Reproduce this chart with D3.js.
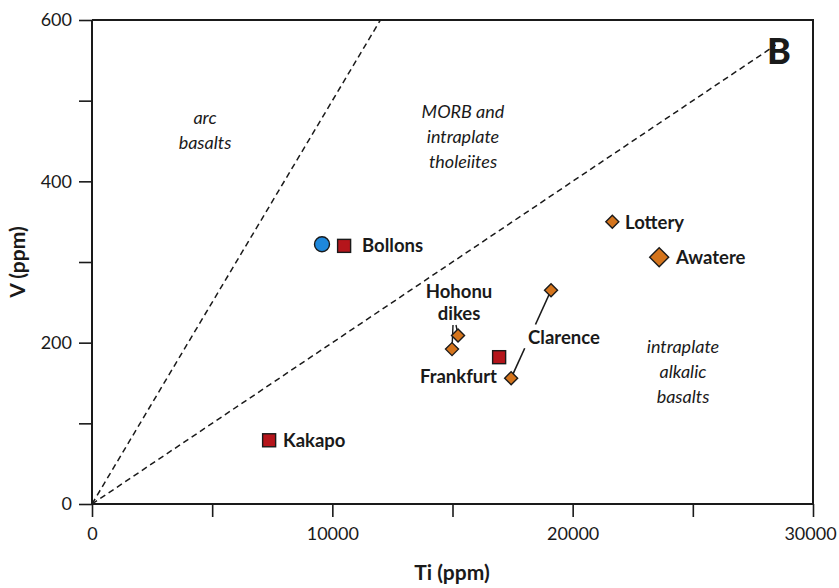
<!DOCTYPE html>
<html>
<head>
<meta charset="utf-8">
<script src="https://cdn.jsdelivr.net/npm/d3@7"></script>
<style>
  html, body { margin: 0; padding: 0; background: #fff; }
  svg { display: block; }
  text { font-family: Lato, "Open Sans", sans-serif; fill: #1a1a1a; }
</style>
</head>
<body>
<svg id="chart" width="839" height="588"></svg>
<script>
// Ti–V discrimination diagram (Shervais), panel B

// axis ticks
const xTicks = [0, 5000, 10000, 15000, 20000, 25000, 30000];
const xTickLabels = ["0", "", "10000", "", "20000", "", "30000"];
const yTicks = [0, 100, 200, 300, 400, 500, 600];
const yTickLabels = ["0", "", "200", "", "400", "", "600"];

// samples
const sampleName  = ["Bollons", "Bollons", "Kakapo", "Frankfurt", "Hohonu dikes", "Hohonu dikes", "Clarence", "Clarence", "Lottery", "Awatere"];
const sampleTi    = [9570, 10490, 7370, 16940, 15230, 14980, 19100, 17440, 21650, 23600];
const sampleV     = [322, 320, 79, 182, 209, 192, 265, 156, 350, 306];
const sampleShape = ["circle", "square", "square", "square", "diamond", "diamond", "diamond", "diamond", "diamond", "diamondL"];

// discriminant lines Ti/V = 20 and Ti/V = 50
const ratioLines = [
  { ratio: 20, tiEnd: 12000 },
  { ratio: 50, tiEnd: 28450 }
];

const svg = d3.select("#chart");
const x = d3.scaleLinear().domain([0, 30000]).range([92, 813]);
const y = d3.scaleLinear().domain([0, 600]).range([504, 20]);

// frame
svg.append("path")
  .attr("d", `M${x(0)},${y(600)}H${x(30000)}V${y(0)}`)
  .attr("fill", "none").attr("stroke", "#1a1a1a").attr("stroke-width", 2);

// axes
const xAxis = d3.axisBottom(x).tickValues(xTicks)
  .tickFormat((d, i) => xTickLabels[i]).tickSize(13).tickPadding(8);
const gx = svg.append("g").attr("transform", `translate(0,${y(0)})`).call(xAxis);
const yAxis = d3.axisLeft(y).tickValues(yTicks)
  .tickFormat((d, i) => yTickLabels[i]).tickSize(13).tickPadding(7);
const gy = svg.append("g").attr("transform", `translate(${x(0)},0)`).call(yAxis);
[gx, gy].forEach(g => {
  g.select(".domain").attr("stroke", "#1a1a1a").attr("stroke-width", 2);
  g.selectAll(".tick line").attr("stroke", "#1a1a1a").attr("stroke-width", 1.6);
  g.selectAll(".tick text").attr("font-size", 18).attr("fill", "#1a1a1a")
    .style("font-family", "Lato, sans-serif");
});
gx.select(".domain").attr("d", `M${x(0)},0H${x(30000)}`);
gy.select(".domain").attr("d", `M0,${y(0)}V${y(600)}`);
gx.selectAll(".tick text").attr("dy", "0.85em");
// keep the last x label inside the page
gx.selectAll(".tick text").filter(d => d === 30000).attr("dx", -3);

// axis titles
svg.append("text").attr("x", 452).attr("y", 580).attr("text-anchor", "middle")
  .attr("font-size", 21).attr("font-weight", "bold").text("Ti (ppm)");
svg.append("text").attr("transform", "translate(25,262) rotate(-90)")
  .attr("text-anchor", "middle").attr("font-size", 21).attr("font-weight", "bold").text("V (ppm)");

// discriminant lines
svg.selectAll(".ratio").data(ratioLines).enter().append("line")
  .attr("x1", x(0)).attr("y1", y(0))
  .attr("x2", d => x(d.tiEnd)).attr("y2", d => y(d.tiEnd / d.ratio))
  .attr("stroke", "#1a1a1a").attr("stroke-width", 1.5).attr("stroke-dasharray", "6,4");

// field labels
const fieldLabels = [
  { lines: ["arc", "basalts"], cx: 205, cy: 118 },
  { lines: ["MORB and", "intraplate", "tholeiites"], cx: 463, cy: 112 },
  { lines: ["intraplate", "alkalic", "basalts"], cx: 683, cy: 347 }
];
fieldLabels.forEach(f => {
  f.lines.forEach((t, i) => {
    svg.append("text").attr("x", f.cx).attr("y", f.cy + i * 25)
      .attr("dy", "0.35em").attr("text-anchor", "middle")
      .attr("font-size", 18).attr("font-style", "italic").attr("fill", "#2a2a2a").text(t);
  });
});

// panel letter
svg.append("text").attr("x", 767).attr("y", 64).attr("font-size", 36)
  .attr("font-weight", "900").text("B");

// leader lines
const idx = n => sampleName.map((s, i) => s === n ? i : -1).filter(i => i >= 0);
const cl = idx("Clarence");
const c0 = [x(sampleTi[cl[0]]), y(sampleV[cl[0]])];
const c1 = [x(sampleTi[cl[1]]), y(sampleV[cl[1]])];
const lerp = t => [c0[0] + (c1[0] - c0[0]) * t, c0[1] + (c1[1] - c0[1]) * t];
[[0, 0.39], [0.66, 1]].forEach(([a, b]) => {
  const p = lerp(a), q = lerp(b);
  svg.append("line").attr("x1", p[0]).attr("y1", p[1]).attr("x2", q[0]).attr("y2", q[1])
    .attr("stroke", "#1a1a1a").attr("stroke-width", 1.6);
});
const ho = idx("Hohonu dikes");
const hoStart = [[456, 325], [453, 325]];
ho.forEach((i, k) => {
  svg.append("line").attr("x1", hoStart[k][0]).attr("y1", hoStart[k][1])
    .attr("x2", x(sampleTi[i])).attr("y2", y(sampleV[i]))
    .attr("stroke", "#1a1a1a").attr("stroke-width", 1.4);
});

// markers
const markerFill = { circle: "#1e88dc", square: "#b5151b", diamond: "#d4741c", diamondL: "#d4741c" };
sampleTi.forEach((ti, i) => {
  const cx = x(ti), cy = y(sampleV[i]), s = sampleShape[i];
  let m;
  if (s === "circle") {
    m = svg.append("circle").attr("cx", cx).attr("cy", cy).attr("r", 7.5);
  } else if (s === "square") {
    m = svg.append("rect").attr("x", cx - 6.5).attr("y", cy - 6.5).attr("width", 13).attr("height", 13);
  } else {
    const r = s === "diamondL" ? 9.5 : 6.5;
    m = svg.append("path").attr("d", `M${cx},${cy - r}L${cx + r},${cy}L${cx},${cy + r}L${cx - r},${cy}Z`);
  }
  m.attr("fill", markerFill[s]).attr("stroke", "#1a1a1a").attr("stroke-width", 1.4);
});

// sample labels
const sampleLabels = [
  { t: "Bollons", x: 362, y: 246, a: "start" },
  { t: "Kakapo", x: 283, y: 441, a: "start" },
  { t: "Frankfurt", x: 497, y: 377, a: "end" },
  { t: "Clarence", x: 564, y: 338, a: "middle" },
  { t: "Hohonu", x: 459, y: 292, a: "middle" },
  { t: "dikes", x: 459, y: 314, a: "middle" },
  { t: "Lottery", x: 625, y: 223, a: "start" },
  { t: "Awatere", x: 676, y: 258, a: "start" }
];
sampleLabels.forEach(l => {
  svg.append("text").attr("x", l.x).attr("y", l.y).attr("dy", "0.35em")
    .attr("text-anchor", l.a).attr("font-size", 18.5).attr("font-weight", "bold").text(l.t);
});
</script>
</body>
</html>
